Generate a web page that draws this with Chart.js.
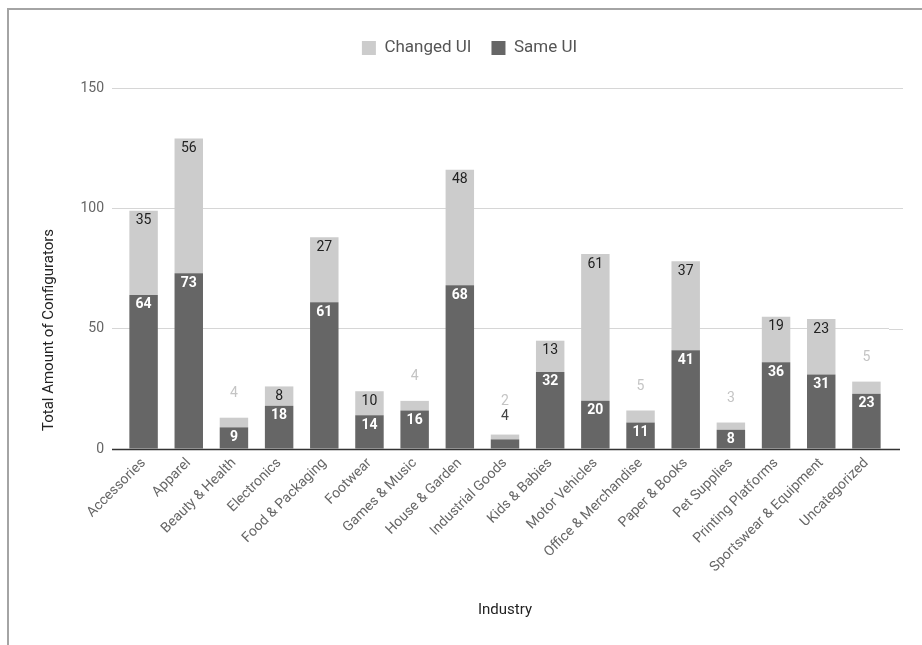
<!DOCTYPE html>
<html>
<head>
<meta charset="utf-8">
<script src="https://cdn.jsdelivr.net/npm/chart.js@4/dist/chart.umd.min.js"></script>
<style>
  html, body { margin: 0; padding: 0; background: #fff; }
  #wrap { position: relative; width: 922px; height: 645px; overflow: hidden; }
  #frame { position: absolute; left: 7px; top: 8px; width: 930px; height: 660px;
           border-top: 2px solid #a4a4a4; border-left: 2px solid #a4a4a4; pointer-events: none; }
</style>
</head>
<body>
<div id="wrap">
  <canvas id="chart" width="922" height="645"></canvas>
  <div id="frame"></div>
</div>
<script>
// Configurators per industry, split by whether the UI was changed
const industries = [
  'Accessories', 'Apparel', 'Beauty & Health', 'Electronics', 'Food & Packaging',
  'Footwear', 'Games & Music', 'House & Garden', 'Industrial Goods', 'Kids & Babies',
  'Motor Vehicles', 'Office & Merchandise', 'Paper & Books', 'Pet Supplies',
  'Printing Platforms', 'Sportswear & Equipment', 'Uncategorized'
];
const sameUI    = [64, 73, 9, 18, 61, 14, 16, 68, 4, 32, 20, 11, 41, 8, 36, 31, 23];
const changedUI = [35, 56, 4,  8, 27, 10,  4, 48, 2, 13, 61,  5, 37, 3, 19, 23,  5];
const yTicks = [0, 50, 100, 150];

const FONT = 'Roboto, "Noto Sans", sans-serif';
const DARK = '#666666';
const LIGHT = '#cccccc';

// Gridlines run a little past the bar area on the right
const gridExtend = {
  id: 'gridExtend',
  beforeDatasetsDraw(chart) {
    const { ctx, chartArea, scales: { y } } = chart;
    ctx.save();
    ctx.lineWidth = 1;
    y.ticks.forEach(t => {
      if (t.value === 0) return;
      const py = Math.round(y.getPixelForValue(t.value)) + 0.5;
      ctx.strokeStyle = '#d6d6d6';
      ctx.beginPath();
      ctx.moveTo(chartArea.right, py);
      ctx.lineTo(chartArea.right + 14, py);
      ctx.stroke();
    });
    ctx.restore();
  },
  afterDatasetsDraw(chart) {
    const { ctx, chartArea, scales: { y } } = chart;
    const py = Math.round(y.getPixelForValue(0)) + 0.5;
    ctx.save();
    ctx.strokeStyle = '#333333';
    ctx.lineWidth = 1.3;
    ctx.beginPath();
    ctx.moveTo(chartArea.left - 9, py);
    ctx.lineTo(chartArea.right + 11, py);
    ctx.stroke();
    ctx.restore();
  }
};

// Value labels: inside the segment when it is tall enough, otherwise above the stack
const valueLabels = {
  id: 'valueLabels',
  afterDatasetsDraw(chart) {
    const { ctx } = chart;
    const sameMeta = chart.getDatasetMeta(0);
    const changedMeta = chart.getDatasetMeta(1);
    ctx.save();
    ctx.textAlign = 'center';
    ctx.textBaseline = 'middle';
    industries.forEach((_, i) => {
      const s = sameMeta.data[i].getProps(['x', 'y', 'base'], true);
      const c = changedMeta.data[i].getProps(['x', 'y', 'base'], true);
      const top = Math.min(s.y, c.y);
      const sameInside = (s.base - s.y) >= 16;
      const changedInside = (c.base - c.y) >= 16;
      if (sameInside) {
        ctx.font = 'bold 14px ' + FONT;
        ctx.fillStyle = '#ffffff';
        ctx.fillText(String(sameUI[i]), s.x, s.y + 10);
      } else {
        ctx.font = '14px ' + FONT;
        ctx.fillStyle = '#444444';
        ctx.fillText(String(sameUI[i]), s.x, top - 18);
      }
      if (changedInside) {
        ctx.font = '14px ' + FONT;
        ctx.fillStyle = '#222222';
        ctx.fillText(String(changedUI[i]), c.x, c.y + 10);
      } else {
        ctx.font = '14px ' + FONT;
        ctx.fillStyle = '#c4c4c4';
        ctx.fillText(String(changedUI[i]), c.x, top - (sameInside ? 24 : 33));
      }
    });
    ctx.restore();
  }
};

// Vertical axis title
const yTitle = {
  id: 'yTitle',
  afterDraw(chart) {
    const { ctx } = chart;
    ctx.save();
    ctx.translate(49, 330);
    ctx.rotate(-Math.PI / 2);
    ctx.font = '15px ' + FONT;
    ctx.fillStyle = '#222222';
    ctx.textAlign = 'center';
    ctx.textBaseline = 'middle';
    ctx.fillText('Total Amount of Configurators', 0, 0);
    ctx.restore();
  }
};

// Legend: extra room below it, and centred a little right of the canvas middle
const legendPlace = {
  id: 'legendPlace',
  afterInit(chart) {
    const lg = chart.legend;
    if (!lg) return;
    const fit = lg.fit.bind(lg);
    lg.fit = function () { fit(); this.height += 21.5; };
  },
  afterLayout(chart) {
    const lg = chart.legend;
    if (!lg) return;
    lg.left += 25;
    lg.right += 25;
  }
};

new Chart(document.getElementById('chart'), {
  type: 'bar',
  data: {
    labels: industries,
    datasets: [
      { label: 'Same UI', data: sameUI, backgroundColor: DARK, borderWidth: 0 },
      { label: 'Changed UI', data: changedUI, backgroundColor: LIGHT, borderWidth: 0 }
    ]
  },
  options: {
    responsive: false,
    animation: false,
    devicePixelRatio: 1,
    layout: { padding: { left: 0, right: 33, top: 19.5, bottom: 0 } },
    datasets: { bar: { categoryPercentage: 1, barPercentage: 0.63 } },
    plugins: {
      legend: {
        position: 'top',
        reverse: true,
        labels: {
          boxWidth: 14, boxHeight: 14, padding: 20,
          color: '#555555',
          font: { family: FONT, size: 17 }
        }
      },
      tooltip: { enabled: false }
    },
    scales: {
      x: {
        stacked: true,
        grid: { display: false, drawTicks: false },
        border: { display: false },
        ticks: {
          minRotation: 45, maxRotation: 45, padding: 6,
          color: '#666666', font: { family: FONT, size: 14 }
        },
        title: {
          display: true, text: 'Industry', color: '#222222',
          font: { family: FONT, size: 15 }, padding: { top: 4, bottom: 26 }
        },
        afterFit(s) { s.height = 196; }
      },
      y: {
        stacked: true,
        min: 0, max: 150,
        afterBuildTicks(s) { s.ticks = yTicks.map(v => ({ value: v })); },
        grid: {
          color: '#d6d6d6', tickColor: '#d6d6d6', tickLength: 9, lineWidth: 1
        },
        border: { display: false },
        ticks: {
          padding: 8, color: '#666666', font: { family: FONT, size: 14 }
        },
        afterFit(s) { s.width = 121; }
      }
    }
  },
  plugins: [legendPlace, gridExtend, valueLabels, yTitle]
});
</script>
</body>
</html>
